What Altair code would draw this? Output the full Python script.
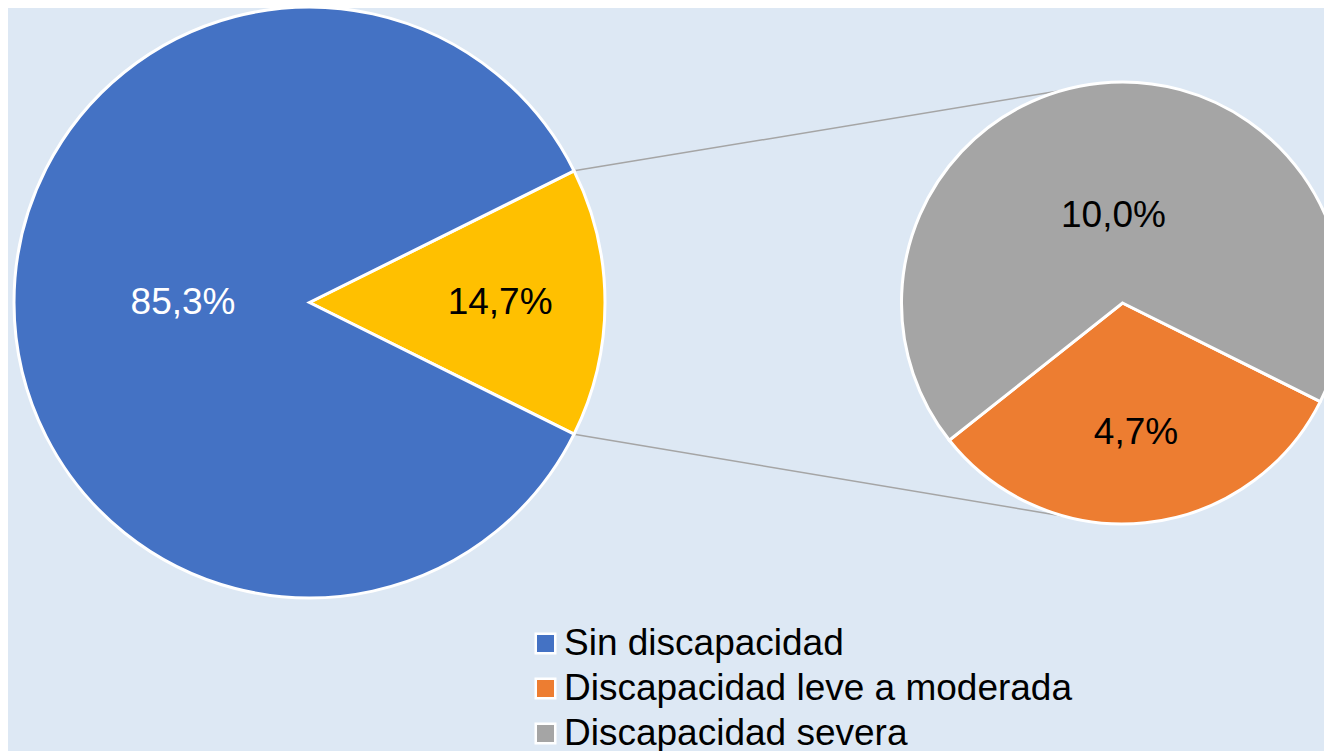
import math
import altair as alt
import pandas as pd

# ---- data ----
main_cats = ["Con discapacidad", "Sin discapacidad"]
main_values = [14.7, 85.3]
main_text = ["14,7%", "85,3%"]

sec_cats = ["Discapacidad leve a moderada", "Discapacidad severa"]
sec_values = [4.7, 10.0]
sec_text = ["4,7%", "10,0%"]

legend_items = ["Sin discapacidad", "Discapacidad leve a moderada", "Discapacidad severa"]
all_cats = ["Sin discapacidad", "Discapacidad leve a moderada", "Discapacidad severa", "Con discapacidad"]
all_colors = ["#4472C4", "#ED7D31", "#A5A5A5", "#FFC000"]

# ---- layout constants ----
W, H = 1316, 743
BG = "#DDE8F4"
FONT = "Liberation Sans"
MX, MY, MR = 301.5, 294.5, 295.5      # main pie centre / radius
SX, SY, SR = 1114.5, 295.0, 221.0     # secondary pie centre / radius
main_start = 90 - main_values[0] / sum(main_values) * 180.0   # yellow slice centred to the right
sec_start = 116.5
main_label_r = [0.645, 0.428]
sec_label_r = [0.59, 0.395]
conn_end_angles = [-16.0, 195.0]
main_text_colors = ["black", "white"]
sec_text_colors = ["black", "black"]


def polar(cx, cy, r, deg):
    a = math.radians(deg)
    return cx + r * math.sin(a), cy - r * math.cos(a)


def slices(values, start):
    tot = sum(values)
    out = []
    a = start
    for v in values:
        span = v / tot * 360.0
        out.append((a, a + span))
        a += span
    return out


main_sl = slices(main_values, main_start)
sec_sl = slices(sec_values, sec_start)

main_df = pd.DataFrame({"cat": main_cats, "value": main_values, "idx": [0, 1]})
sec_df = pd.DataFrame({"cat": sec_cats, "value": sec_values, "idx": [0, 1]})

# labels
rows = []
for (a0, a1), t, fr, c in zip(main_sl, main_text, main_label_r, main_text_colors):
    x, y = polar(MX, MY, MR * fr, (a0 + a1) / 2)
    rows.append({"lx": x, "ly": y, "txt": t, "tcol": c})
for (a0, a1), t, fr, c in zip(sec_sl, sec_text, sec_label_r, sec_text_colors):
    x, y = polar(SX, SY, SR * fr, (a0 + a1) / 2)
    rows.append({"lx": x, "ly": y, "txt": t, "tcol": c})
lab_df = pd.DataFrame(rows)

# connector lines
conn = []
for a_main, a_sec in zip([main_sl[0][0], main_sl[0][1]], conn_end_angles):
    x1, y1 = polar(MX, MY, MR, a_main)
    x2, y2 = polar(SX, SY, SR, a_sec)
    conn.append({"x": x1, "y": y1, "x2": x2, "y2": y2})
conn_df = pd.DataFrame(conn)

xs = alt.Scale(domain=[0, W], range=[0, W], zero=False, nice=False)
ys = alt.Scale(domain=[0, H], range=[0, H], zero=False, nice=False)

legend = alt.Legend(
    values=legend_items, title=None, orient="none", legendX=519, legendY=617,
    symbolType="square", symbolSize=380, symbolStrokeColor="white", symbolStrokeWidth=2.5,
    symbolOpacity=1, labelFont=FONT, labelFontSize=37, labelColor="black",
    labelOffset=0, rowPadding=7, padding=0, labelLimit=800,
)
color_scale = alt.Scale(domain=all_cats, range=all_colors)

lines = alt.Chart(conn_df).mark_rule(color="#A5A5A5", strokeWidth=1.5).encode(
    x=alt.X("x:Q", scale=xs, axis=None),
    y=alt.Y("y:Q", scale=ys, axis=None),
    x2="x2:Q",
    y2="y2:Q",
)

main_pie = alt.Chart(main_df).mark_arc(outerRadius=MR, stroke="white", strokeWidth=3).encode(
    theta=alt.Theta("value:Q", stack=True,
                    scale=alt.Scale(domain=[0, sum(main_values)],
                                    range=[math.radians(main_start), math.radians(main_start) + 2 * math.pi])),
    color=alt.Color("cat:N", scale=color_scale, legend=legend),
    order=alt.Order("idx:Q"),
    x=alt.value(MX),
    y=alt.value(MY),
)

sec_pie = alt.Chart(sec_df).mark_arc(outerRadius=SR, stroke="white", strokeWidth=3).encode(
    theta=alt.Theta("value:Q", stack=True,
                    scale=alt.Scale(domain=[0, sum(sec_values)],
                                    range=[math.radians(sec_start), math.radians(sec_start) + 2 * math.pi])),
    color=alt.Color("cat:N", scale=color_scale, legend=legend),
    order=alt.Order("idx:Q"),
    x=alt.value(SX),
    y=alt.value(SY),
)

labels = alt.Chart(lab_df).mark_text(font=FONT, fontSize=37, align="center", baseline="middle").encode(
    x=alt.X("lx:Q", scale=xs, axis=None),
    y=alt.Y("ly:Q", scale=ys, axis=None),
    text="txt:N",
    fill=alt.Fill("tcol:N", scale=None),
)

chart = alt.layer(lines, main_pie, sec_pie, labels).resolve_scale(
    theta="independent"
).properties(
    width=W, height=H, padding=0, autosize=alt.AutoSizeParams(type="none"), background=BG,
).configure_view(stroke=None)

chart.save("out.html", embed_options={"renderer": "svg", "actions": False})
